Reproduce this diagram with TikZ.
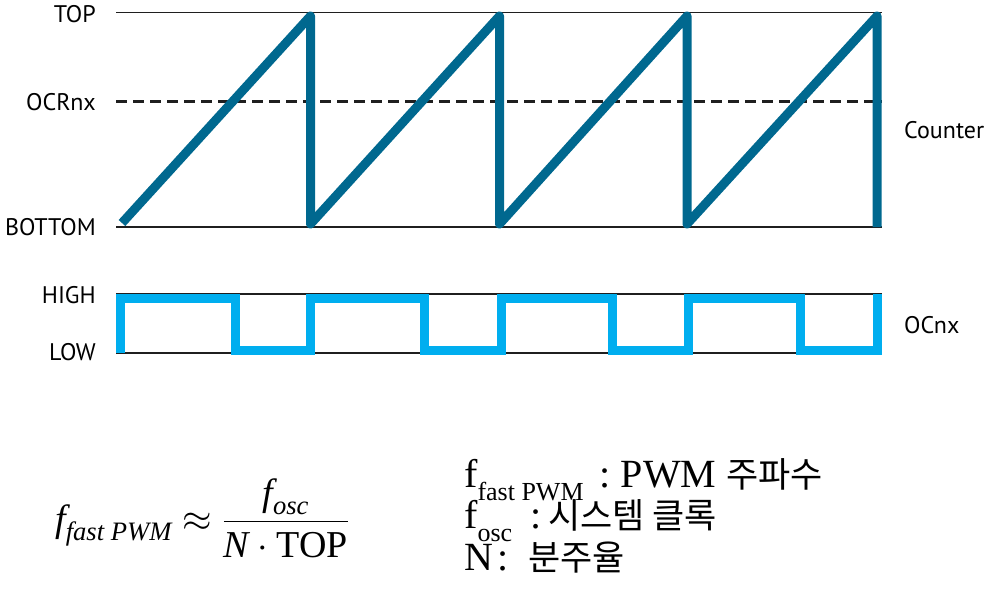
\RequirePackage{fix-cm}
\documentclass[tikz,border=0pt]{standalone}
\usepackage{amsmath}
\usepackage{fontspec}
\setmainfont{Liberation Serif}
\newfontfamily\labelfont{PT Sans}
\newfontfamily\kor{Noto Sans CJK KR}
\definecolor{counterblue}{HTML}{00688F}
\definecolor{ocblue}{HTML}{00AEEF}
\colorlet{levelgray}{black!88}
\usetikzlibrary{positioning}
\tikzstyle{level}=[draw=levelgray, line width=1.5pt]
\tikzstyle{lbl}=[inner sep=0pt, anchor=base east, font=\labelfont\fontsize{24}{24}\selectfont]
\tikzstyle{sig}=[inner sep=0pt, anchor=base west, font=\labelfont\fontsize{24}{24}\selectfont]
\tikzstyle{legend}=[inner sep=0pt, anchor=base west, font=\fontsize{40}{40}\selectfont]
\newcommand{\subtxt}[1]{\raisebox{-13pt}{\fontsize{26}{26}\selectfont #1}}
\newcommand{\hangul}[1]{{\kor\fontsize{35}{35}\selectfont #1}}

\begin{document}
\begin{tikzpicture}[x=1pt, y=-1pt]
  \useasboundingbox (0,0) rectangle (991,614);

  % level labels
  \node[lbl] (top) at (96,22) {TOP};
  \node[lbl] (ocr) at (96,110) {OCRnx};
  \node[lbl] (bottom) at (96,235) {BOTTOM};
  \node[lbl] (high) at (96,303) {HIGH};
  \node[lbl] (low) at (96,360) {LOW};
  \node[sig] (counter) at (904,138) {Counter};
  \node[sig] (ocnx) at (904,333) {OCnx};

  % level lines
  \draw[level] (116,12.5) -- (882,12.5);
  \draw[level] (116,227) -- (882,227);
  \draw[draw=levelgray, line width=3pt, dash pattern=on 11pt off 6pt] (116,101) -- (882,101);
  \draw[level] (116,294) -- (882,294);
  \draw[level] (116,353) -- (882,353);

  % counter
  \draw[counterblue, line width=9pt, line join=round]
    (122,223) -- (310.5,16) -- (310.5,224)
    -- (499.5,16) -- (499.5,224)
    -- (687,16) -- (687,224)
    -- (877,16) -- (877,227);

  % output compare pin
  \draw[ocblue, line width=9pt]
    (120.5,353) -- (120.5,298.5) -- (235.5,298.5) -- (235.5,350.5)
    -- (310,350.5) -- (310,298.5) -- (424,298.5) -- (424,350.5)
    -- (501,350.5) -- (501,298.5) -- (612,298.5) -- (612,350.5)
    -- (688,350.5) -- (688,298.5) -- (800,298.5) -- (800,350.5)
    -- (877,350.5) -- (877,294);

  % formula
  \node[inner sep=0pt, anchor=base west, font=\fontsize{38}{40}\selectfont] (fpwm) at (55,531)
    {$\textit{f}_{\textit{fast PWM}}\approx\dfrac{\textit{f}_{\textit{osc}}}{\textit{N}\cdot\text{TOP}}$};

  \node[legend] (l1) at (464,487) {f\subtxt{fast PWM}\hspace{16pt}:\hspace{10pt}PWM \hangul{주파수}};
  \node[legend] (l2) at (464,528) {f\subtxt{osc}\hspace{18pt}:\hspace{7pt}\hangul{시스템 클록}};
  \node[legend] (l3) at (464,570) {N\hspace{4pt}:\hspace{20pt}\hangul{분주율}};
\end{tikzpicture}
\end{document}
